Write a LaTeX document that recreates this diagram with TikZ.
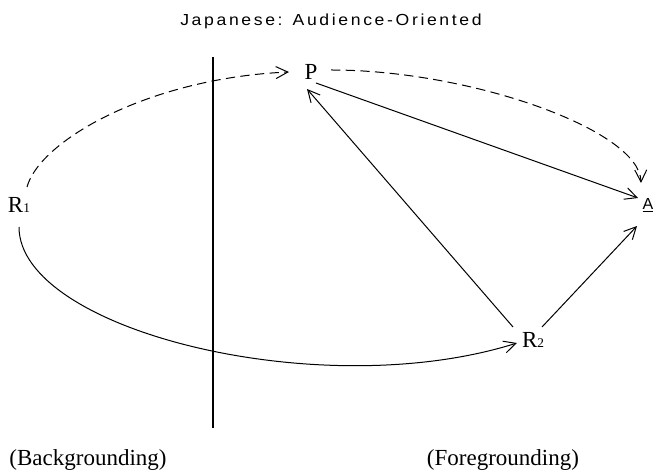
\documentclass[tikz,border=0pt]{standalone}
\usepackage{fontspec}
\setmainfont{Liberation Serif}
\newfontfamily\gothic[LetterSpace=15]{Liberation Sans}
\newfontfamily\gothicA{Liberation Sans}
\usepackage{graphicx}
\usetikzlibrary{arrows.meta,calc}
\newcommand{\subdig}[1]{{\fontsize{10pt}{10pt}\selectfont #1}}
\begin{document}
\begin{tikzpicture}[x=0.75pt,y=-0.75pt,
  lbl/.style={inner sep=0pt, font=\fontsize{17.25pt}{18pt}\selectfont},
  gtxt/.style={inner sep=0pt, font=\gothic\fontsize{12pt}{14pt}\selectfont},
  conn/.style={line width=0.75pt, -{Straight Barb[length=9pt,width=9pt]}},
  dconn/.style={conn, dash pattern=on 7pt off 4pt},
  divider/.style={line width=0.9pt}]
\useasboundingbox[fill=white] (0,0) rectangle (656,473);
% title
\node[gtxt, anchor=base] (title) at (331,25.7) {\scalebox{1.1}[1]{Japanese: Audience-Oriented}};
% nodes
\node[lbl] (P) at (311,72) {P};
\node[lbl] (R1) at (19,205) {R\subdig{1}};
\node[lbl] (R2) at (533,340) {R\subdig{2}};
\node[inner sep=0pt, font=\gothicA\fontsize{12pt}{14pt}\selectfont] (A) at (648,205) {\underline{A}};
\node[lbl, anchor=base] (bg) at (88,465) {(Backgrounding)};
\node[lbl, anchor=base] (fg) at (503,465) {(Foregrounding)};
% divider
\coordinate (vtop) at (213,57);
\coordinate (vbot) at (213,428);
\draw[divider] (vtop) -- (vbot);
% dashed curves
\draw[dconn] ($(R1)+(8,-18)$) .. controls (40,140) and (150,78) .. ($(P)+(-22,0)$);
\draw[dconn] ($(P)+(20,-2)$) .. controls (470,70) and (640,130) .. ($(A)+(-7,-22)$);
% solid curve
\draw[conn] ($(R1)+(0,22)$) .. controls (19,330) and (320,405) .. ($(R2)+(-16,3)$);
% straight arrows
\draw[conn] ($(P)+(5,11)$) -- ($(A)+(-10,-7)$);
\draw[conn] ($(R2)+(-20,-13)$) -- ($(P)+(-4,17)$);
\draw[conn] ($(R2)+(9,-13)$) -- ($(A)+(-11,21)$);
\end{tikzpicture}
\end{document}
